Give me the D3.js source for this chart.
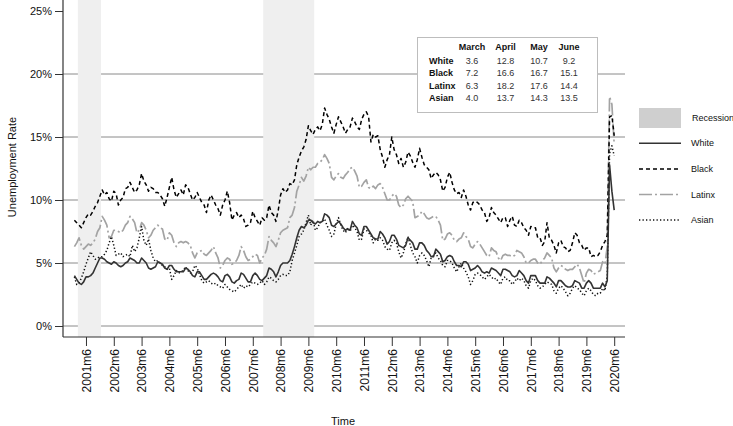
<!DOCTYPE html>
<html><head><meta charset="utf-8">
<script src="https://cdn.jsdelivr.net/npm/d3@7"></script>
<style>
html,body{margin:0;padding:0;background:#fff;}
svg{display:block;font-family:"Liberation Sans",Arial,sans-serif;}
</style></head>
<body><svg id="c" width="733" height="426"></svg>
<script>
const tickLabels = ["2001m6","2002m6","2003m6","2004m6","2005m6","2006m6","2007m6","2008m6","2009m6","2010m6",
  "2011m6","2012m6","2013m6","2014m6","2015m6","2016m6","2017m6","2018m6","2019m6","2020m6"];
const yTicks = [0,5,10,15,20,25];
const gridValues = [0,5,10,15,20];
const recessions = [["2001m3","2001m12"],["2007m11","2009m8"]];
const seriesNames = ["White","Black","Latinx","Asian"];

const white = [
 4.0,3.7,3.4,3.3,3.5,3.9,3.9,4.0,4.2,4.6,5.0,5.4,
 5.4,5.3,5.1,5.0,4.9,5.1,5.0,4.8,4.7,4.8,5.0,5.1,
 5.4,5.3,5.2,5.0,5.0,5.4,5.2,5.0,4.6,4.5,4.6,4.7,
 5.1,5.0,4.9,4.6,4.5,4.8,4.8,4.5,4.3,4.3,4.3,4.3,
 4.6,4.5,4.3,4.0,3.9,4.3,4.3,4.0,3.7,3.7,3.9,4.1,
 4.2,4.1,3.9,3.6,3.5,4.0,4.1,3.9,3.5,3.4,3.6,3.7,
 4.2,4.1,3.8,3.5,3.5,4.0,4.2,4.0,3.7,3.6,3.8,4.0,
 4.6,4.5,4.3,3.9,4.3,4.8,5.0,5.0,5.0,5.2,5.7,6.3,
 7.0,7.6,7.9,7.8,8.0,8.4,8.4,8.2,8.1,8.3,8.2,8.3,
 8.9,8.8,8.6,8.0,7.9,8.1,8.3,8.1,7.8,7.6,7.7,7.6,
 8.3,8.0,7.8,7.3,7.2,7.9,7.9,7.6,7.3,7.0,6.9,6.9,
 7.5,7.3,7.0,6.5,6.7,7.2,7.2,6.9,6.4,6.3,6.2,6.4,
 7.0,6.8,6.6,6.1,6.1,6.6,6.6,6.4,6.0,5.8,5.5,5.5,
 6.1,5.9,5.7,5.1,5.2,5.5,5.6,5.5,5.1,4.8,4.8,4.7,
 5.1,5.1,4.9,4.4,4.5,4.6,4.8,4.6,4.3,4.2,4.3,4.2,
 4.6,4.5,4.4,4.2,4.0,4.5,4.5,4.4,4.3,4.0,3.9,4.0,
 4.4,4.2,4.0,3.6,3.4,4.0,4.0,4.0,3.6,3.4,3.4,3.4,
 3.9,3.8,3.6,3.4,3.1,3.6,3.6,3.4,3.2,3.1,3.1,3.2,
 3.6,3.5,3.4,3.0,3.0,3.4,3.6,3.4,3.0,3.0,3.0,3.0,
 3.4,3.1,3.6,12.8,10.7,9.2];

const black = [
 8.4,8.2,8.0,7.8,8.2,8.6,8.9,8.8,9.1,9.5,9.8,10.3,
 10.8,10.4,10.6,10.1,9.9,10.7,10.5,9.6,10.0,10.2,10.9,11.0,
 11.4,11.0,10.6,10.8,11.2,12.1,11.5,11.2,10.7,11.0,10.9,10.6,
 10.6,10.4,10.1,9.5,10.2,11.0,11.8,10.8,10.2,10.5,10.8,10.4,
 11.2,11.0,10.5,10.0,10.2,10.6,10.2,9.8,9.6,9.0,10.0,10.4,
 10.0,9.6,9.3,8.8,9.6,10.0,10.7,9.8,8.4,8.8,9.0,8.6,
 8.8,8.5,7.9,8.0,8.2,9.1,8.6,8.3,8.0,8.6,8.4,8.6,
 9.6,9.0,8.8,8.3,9.2,10.4,10.9,10.6,10.8,11.3,11.2,11.6,
 12.8,13.4,13.9,14.2,14.8,15.9,15.5,15.2,15.6,15.8,15.5,16.0,
 17.3,16.8,16.4,15.8,15.3,16.0,16.6,16.2,15.8,15.3,15.6,15.8,
 16.5,16.2,15.8,15.6,16.4,16.8,17.0,16.6,14.6,15.2,15.0,15.1,
 14.0,13.4,12.6,13.2,13.6,15.0,14.0,13.6,12.9,13.3,12.6,13.0,
 13.8,13.5,13.0,12.6,13.2,14.1,13.4,12.8,12.6,12.4,11.7,12.0,
 12.2,12.0,11.6,10.7,11.0,11.8,12.2,11.4,10.8,10.5,10.6,10.2,
 10.8,10.3,9.6,9.2,9.8,9.9,9.8,9.6,9.2,9.0,8.3,8.6,
 9.4,9.0,8.8,8.5,8.2,8.6,8.6,7.9,8.4,8.7,8.0,7.9,
 8.4,8.2,7.8,7.6,7.2,7.9,7.8,7.8,7.0,7.0,6.4,6.7,
 8.2,7.0,6.8,6.4,5.8,6.6,6.8,6.3,6.2,5.9,6.0,6.6,
 7.4,7.2,6.6,6.4,6.0,6.2,6.2,5.5,5.6,5.5,5.6,5.9,
 6.4,6.7,7.2,16.6,16.7,15.1];

const latinx = [
 6.3,6.6,7.0,6.4,6.1,6.3,6.5,6.4,6.6,6.9,7.5,7.8,
 8.7,8.4,8.0,7.0,7.1,7.6,7.6,7.5,7.4,7.6,8.0,8.2,
 8.7,8.5,8.2,7.4,7.6,8.2,8.0,7.6,7.0,7.2,7.6,7.8,
 8.0,7.8,7.7,6.9,6.8,7.4,7.2,6.6,6.3,6.6,6.7,6.6,
 6.7,6.6,6.4,5.8,5.4,5.8,5.9,6.0,5.7,5.6,5.8,6.0,
 6.3,5.8,5.4,4.6,4.8,5.2,5.4,5.3,4.9,5.0,5.2,5.6,
 6.3,6.0,5.5,5.2,5.3,5.5,5.7,5.6,5.0,5.4,5.6,6.1,
 7.1,6.8,6.6,6.3,6.8,7.4,7.6,7.7,7.8,8.6,8.8,9.4,
 10.7,11.2,11.8,11.5,11.9,12.6,12.4,12.6,12.6,12.9,13.0,13.2,
 13.6,13.3,12.9,11.8,11.6,11.9,12.1,11.8,11.7,12.0,12.2,12.5,
 12.6,12.3,11.9,11.0,11.1,11.4,11.6,11.0,10.9,11.1,10.9,11.2,
 11.3,11.0,10.5,10.0,10.0,10.3,10.5,10.3,9.6,9.4,9.6,10.1,
 10.3,10.1,9.9,8.6,8.7,8.8,9.1,8.9,8.6,8.5,8.6,8.7,
 8.7,8.4,8.0,6.8,6.9,7.3,7.4,7.2,6.8,6.7,6.9,7.0,
 7.4,7.1,6.9,6.3,6.2,6.5,6.7,6.5,6.2,5.9,5.6,5.5,
 6.2,6.0,5.9,5.4,5.2,5.6,5.7,5.6,5.6,5.5,5.6,6.0,
 5.9,5.8,5.5,5.0,5.0,5.2,5.3,5.3,5.0,4.9,5.2,5.4,
 5.8,5.6,5.4,4.6,4.3,4.6,4.8,4.7,4.5,4.4,4.5,4.5,
 4.7,4.9,4.6,4.0,3.4,4.2,4.5,4.4,4.1,4.2,4.3,4.4,
 5.1,4.9,6.3,18.2,17.6,14.4];

const asian = [
 3.9,3.3,3.4,3.8,4.3,4.9,5.4,5.9,5.6,5.3,5.4,5.5,
 5.5,5.7,6.0,6.6,7.1,6.4,5.6,5.7,5.8,5.5,5.6,5.7,
 5.5,6.4,5.9,6.2,7.0,7.9,6.8,6.4,6.9,6.0,5.4,5.1,
 5.2,5.0,4.8,4.7,4.5,4.6,3.7,4.0,4.4,4.2,4.3,4.4,
 4.7,4.4,4.2,4.3,4.8,4.6,4.1,3.6,3.4,3.5,3.6,3.4,
 3.3,3.4,3.2,3.1,3.0,3.3,3.1,2.9,2.8,2.7,2.9,3.1,
 3.3,3.0,3.2,3.1,3.3,3.5,3.4,3.3,3.4,3.6,3.3,3.5,
 3.9,3.8,3.6,3.5,3.7,4.0,4.1,4.0,4.0,4.3,5.2,5.8,
 6.4,7.1,7.3,7.6,8.2,8.8,8.0,8.4,7.6,7.8,8.2,8.3,
 8.5,8.0,7.6,7.1,7.3,8.1,8.6,8.0,7.6,7.4,7.8,7.5,
 8.0,7.8,7.5,6.8,6.9,7.7,7.6,7.4,7.2,6.6,6.9,6.8,
 7.0,6.8,6.3,6.1,6.0,6.6,6.8,6.6,5.9,5.4,5.8,6.5,
 7.1,6.4,5.8,5.5,5.0,5.6,5.8,5.6,5.2,4.7,5.4,5.6,
 5.8,5.4,5.2,4.8,4.7,5.2,5.2,5.0,4.6,4.3,4.7,5.0,
 4.6,4.3,3.9,3.3,3.6,4.1,4.2,4.1,3.9,3.7,3.9,4.1,
 3.9,3.7,3.8,3.5,3.3,3.8,3.9,3.6,3.6,3.3,3.5,3.8,
 3.6,3.8,3.6,3.2,3.0,3.6,3.8,3.6,3.2,3.0,3.1,3.3,
 3.5,3.4,3.3,2.8,2.6,3.0,3.2,3.0,2.7,2.4,2.6,3.0,
 3.2,3.0,2.9,2.6,2.4,2.8,3.0,2.8,2.5,2.4,2.6,2.6,
 3.0,2.8,4.0,13.7,14.3,13.5];

// Inset table
const tableCols = ["March","April","May","June"];
const tableRows = ["White","Black","Latinx","Asian"];
const tableWhite = ["3.6","12.8","10.7","9.2"];
const tableBlack = ["7.2","16.6","16.7","15.1"];
const tableLatinx = ["6.3","18.2","17.6","14.4"];
const tableAsian = ["4.0","13.7","14.3","13.5"];

const months = [];
for (let i = 0; i < white.length; i++) months.push((2001 + Math.floor(i/12)) + "m" + (i%12 + 1));

const svg = d3.select("#c");
const axL = 63, axR = 625, axB = 337;
const x = d3.scalePoint().domain(months).range([74.4, 614.2]);
const step = x.step();
const y = d3.scaleLinear().domain([0,25]).range([326, 11]);

// gridlines
svg.append("g").selectAll("line").data(gridValues).join("line")
  .attr("x1", axL).attr("x2", axR).attr("y1", d=>y(d)).attr("y2", d=>y(d))
  .attr("stroke", "#8a8a8a").attr("stroke-width", 1);

// recession shading
svg.append("g").selectAll("rect").data(recessions).join("rect")
  .attr("x", d => x(d[0]) - step/2)
  .attr("width", d => x(d[1]) - x(d[0]) + step)
  .attr("y", 0).attr("height", axB)
  .attr("fill", "#efefef");

const styles = {
  White:  {data: white,  color:"#333", width:1.6, dash:null},
  Black:  {data: black,  color:"#000", width:1.5, dash:"4,3"},
  Latinx: {data: latinx, color:"#a3a3a3", width:1.7, dash:"13,3,2,3"},
  Asian:  {data: asian,  color:"#111", width:1.5, dash:"1.3,2.2"}
};
const line = d3.line().x((d,i)=>x(months[i])).y(d=>y(d));
["Latinx","Black","Asian","White"].forEach(k=>{
  const s = styles[k];
  svg.append("path").datum(s.data).attr("d", line)
    .attr("fill","none").attr("stroke", s.color).attr("stroke-width", s.width)
    .attr("stroke-dasharray", s.dash).attr("stroke-linejoin","round");
});

// axes
const yAxis = d3.axisLeft(y).tickValues(yTicks).tickFormat(d=>d+"%").tickSize(8).tickPadding(3);
const gy = svg.append("g").attr("transform", `translate(${axL},0)`).call(yAxis);
gy.select(".domain").remove();
gy.selectAll("line").attr("stroke","#333");
gy.selectAll("text").attr("font-size", 11).attr("fill","#111");
svg.append("line").attr("x1",axL).attr("x2",axL).attr("y1",0).attr("y2",axB).attr("stroke","#333").attr("stroke-width",1.2);

const xAxis = d3.axisBottom(x).tickValues(tickLabels).tickSize(9);
const gx = svg.append("g").attr("transform", `translate(0,${axB})`).call(xAxis);
gx.select(".domain").remove();
gx.selectAll("line").attr("stroke","#333");
gx.selectAll("text").attr("font-size", 12).attr("fill","#111")
  .attr("transform","rotate(-90)").attr("text-anchor","end")
  .attr("x", -12).attr("y", 0).attr("dy","0.36em");
svg.append("line").attr("x1",axL).attr("x2",axR).attr("y1",axB).attr("y2",axB).attr("stroke","#333").attr("stroke-width",1.2);

// titles
svg.append("text").attr("transform","translate(16,167) rotate(-90)").attr("text-anchor","middle")
  .attr("font-size",11).attr("fill","#111").text("Unemployment Rate");
svg.append("text").attr("x",343).attr("y",425).attr("text-anchor","middle")
  .attr("font-size",11).attr("fill","#111").text("Time");

// legend
const lg = svg.append("g");
lg.append("rect").attr("x",639).attr("y",108).attr("width",42).attr("height",20).attr("fill","#cfcfcf");
lg.append("text").attr("x",692).attr("y",121).attr("font-size",9).attr("fill","#111").text("Recession");
seriesNames.forEach((k,i)=>{
  const s = styles[k], yy = 143.3 + i*25.6;
  lg.append("line").attr("x1",639).attr("x2",681).attr("y1",yy).attr("y2",yy)
    .attr("stroke", s.color).attr("stroke-width", s.width).attr("stroke-dasharray", s.dash);
  lg.append("text").attr("x",691).attr("y",yy+3).attr("font-size",9).attr("fill","#111").text(k);
});

// inset table
const tg = svg.append("g");
tg.append("rect").attr("x",417.5).attr("y",37.5).attr("width",180).attr("height",75)
  .attr("fill","#fff").attr("stroke","#bdbdbd").attr("stroke-width",1);
const colX = [472, 505.5, 539, 569];
const rowY = [63.5, 76, 88.5, 101];
const tableVals = [tableWhite, tableBlack, tableLatinx, tableAsian];
tableCols.forEach((c,j)=>{
  tg.append("text").attr("x",colX[j]).attr("y",50).attr("text-anchor","middle")
    .attr("font-size",9).attr("font-weight","bold").attr("fill","#111").text(c);
});
tableRows.forEach((r,i)=>{
  tg.append("text").attr("x",429).attr("y",rowY[i]).attr("font-size",9).attr("font-weight","bold").attr("fill","#111").text(r);
  tableVals[i].forEach((v,j)=>{
    tg.append("text").attr("x",colX[j]).attr("y",rowY[i]).attr("text-anchor","middle")
      .attr("font-size",9).attr("fill","#333").text(v);
  });
});
</script></body></html>
